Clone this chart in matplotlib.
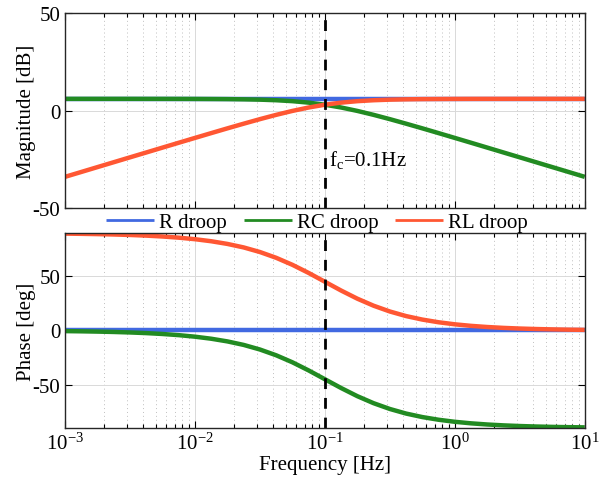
import matplotlib
matplotlib.use("Agg")
import matplotlib.pyplot as plt
from matplotlib.ticker import LogLocator, NullFormatter, FixedLocator

plt.rcParams['font.family'] = ['Liberation Serif', 'DejaVu Serif']
plt.rcParams['mathtext.fontset'] = 'custom'
plt.rcParams['mathtext.rm'] = 'Liberation Serif'
plt.rcParams['mathtext.it'] = 'Liberation Serif:italic'
plt.rcParams['axes.unicode_minus'] = False

# Frequency samples [Hz]
freq = [0.001, 0.001334, 0.001778, 0.002371, 0.003162, 0.004217, 0.005623, 0.007499,
        0.01, 0.01334, 0.01778, 0.02371, 0.03162, 0.04217, 0.05623, 0.07499,
        0.1, 0.1334, 0.1778, 0.2371, 0.3162, 0.4217, 0.5623, 0.7499,
        1.0, 1.334, 1.778, 2.371, 3.162, 4.217, 5.623, 7.499, 10.0]

# Magnitude [dB]
mag_R = [6.0] * 33
mag_RC = [6.00, 6.00, 6.00, 6.00, 6.00, 5.99, 5.99, 5.98,
          5.96, 5.92, 5.87, 5.76, 5.59, 5.29, 4.81, 4.06,
          2.99, 1.56, -0.19, -2.21, -4.41, -6.74, -9.13, -11.57,
          -14.04, -16.52, -19.01, -21.51, -24.00, -26.50, -29.00, -31.50, -34.00]
mag_RL = [-34.00, -31.50, -29.00, -26.50, -24.00, -21.51, -19.01, -16.52,
          -14.04, -11.57, -9.13, -6.74, -4.41, -2.21, -0.19, 1.56,
          2.99, 4.06, 4.81, 5.29, 5.59, 5.76, 5.87, 5.92,
          5.96, 5.98, 5.99, 5.99, 6.00, 6.00, 6.00, 6.00, 6.00]

# Phase [deg]
ph_R = [0.0] * 33
ph_RC = [-0.57, -0.76, -1.02, -1.36, -1.81, -2.41, -3.22, -4.29,
         -5.71, -7.60, -10.08, -13.31, -17.55, -22.88, -29.36, -36.87,
         -45.0, -53.13, -60.64, -67.12, -72.45, -76.69, -79.92, -82.40,
         -84.29, -85.71, -86.78, -87.59, -88.19, -88.64, -88.98, -89.24, -89.43]
ph_RL = [89.43, 89.24, 88.98, 88.64, 88.19, 87.59, 86.78, 85.71,
         84.29, 82.40, 79.92, 76.69, 72.45, 67.12, 60.64, 53.13,
         45.0, 36.87, 29.36, 22.88, 17.55, 13.31, 10.08, 7.60,
         5.71, 4.29, 3.22, 2.41, 1.81, 1.36, 1.02, 0.76, 0.57]

fc = 0.1
labels = ['R droop', 'RC droop', 'RL droop']
colors = ['#4169E1', '#228B22', '#FF5733']

fig = plt.figure(figsize=(6.1, 4.85), dpi=100)
ax1 = fig.add_axes([0.1066, 0.569, 0.852, 0.402])
ax2 = fig.add_axes([0.1066, 0.1155, 0.852, 0.402])

lw = 3.2
for ax, data in [(ax1, [mag_R, mag_RC, mag_RL]), (ax2, [ph_R, ph_RC, ph_RL])]:
    for d, c, lab in zip(data, colors, labels):
        ax.plot(freq, d, color=c, lw=lw, label=lab, solid_capstyle='butt')
    ax.axvline(fc, color='black', lw=2.0, ls=(0, (3.9, 3.2)))
    ax.set_xscale('log')
    ax.set_xlim(1e-3, 10)
    ax.xaxis.set_major_locator(LogLocator(base=10, numticks=10))
    ax.xaxis.set_minor_locator(LogLocator(base=10, subs=range(2, 10), numticks=20))
    ax.xaxis.set_minor_formatter(NullFormatter())
    ax.grid(True, which='major', color='#d9d9d9', lw=0.7, ls='-')
    ax.grid(True, which='minor', axis='x', color='#bfbfbf', lw=0.7, ls=(0, (1, 3)))
    ax.set_axisbelow(True)
    ax.tick_params(which='both', direction='in', top=True, right=True,
                   labelsize=15, width=0.8, color='black')
    ax.tick_params(which='major', length=5)
    ax.tick_params(which='minor', length=3)
    for sp in ax.spines.values():
        sp.set_linewidth(1.0)
        sp.set_color('#262626')

ax1.set_ylim(-50, 50)
ax1.yaxis.set_major_locator(FixedLocator([-50, 0, 50]))
ax1.tick_params(labelbottom=False)
ax1.set_ylabel('Magnitude [dB]', fontsize=15)
ax1.yaxis.set_label_coords(-0.056, 0.5)
ax1.text(0.107, -25, r'f$_\mathrm{c}$=0.1Hz', fontsize=15, ha='left', va='center')

ax2.set_ylim(-90, 90)
ax2.yaxis.set_major_locator(FixedLocator([-50, 0, 50]))
ax2.set_ylabel('Phase [deg]', fontsize=15)
ax2.yaxis.set_label_coords(-0.056, 0.5)
ax2.set_xlabel('Frequency [Hz]', fontsize=15, labelpad=1)

handles, labs = ax1.get_legend_handles_labels()
leg = fig.legend(handles, labs, loc='center', bbox_to_anchor=(0.52, 0.54), ncol=3,
                 frameon=False, fontsize=15, handlelength=2.3, handletextpad=0.25,
                 columnspacing=0.8, borderpad=0)
for h in leg.get_lines():
    h.set_linewidth(2.0)

fig.savefig('out.png', dpi=100)
